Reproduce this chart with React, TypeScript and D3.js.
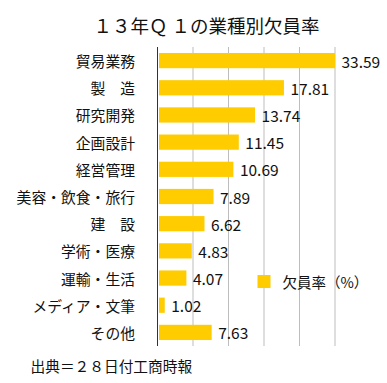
import React from "react";
import * as d3 from "d3";

const categories = [
  "貿易業務",
  "製　造",
  "研究開発",
  "企画設計",
  "経営管理",
  "美容・飲食・旅行",
  "建　設",
  "学術・医療",
  "運輸・生活",
  "メディア・文筆",
  "その他",
];
const values = [33.59, 17.81, 13.74, 11.45, 10.69, 7.89, 6.62, 4.83, 4.07, 1.02, 7.63];
const valueLabels = ["33.59", "17.81", "13.74", "11.45", "10.69", "7.89", "6.62", "4.83", "4.07", "1.02", "7.63"];
const xTicks = [5, 10, 15, 20, 25];
const xDomain = [0, 25];
const title = "１３年Ｑ １の業種別欠員率";
const legendLabel = "欠員率（%）";
const source = "出典＝２８日付工商時報";

const FONT = "'Noto Sans CJK JP', 'Noto Sans', sans-serif";

export default function App() {
  const W = 387;
  const H = 383;
  const top = 47;
  const bottom = 346;
  const x = d3.scaleLinear().domain(xDomain).range([157.5, 335]);
  const y = d3
    .scaleBand<string>()
    .domain(categories)
    .range([top, bottom])
    .paddingInner(0.44)
    .paddingOuter(0.22);
  const bw = y.bandwidth();

  return (
    <svg
      width={W}
      height={H}
      style={{ position: "absolute", left: 0, top: 0, background: "#fff" }}
      fontFamily={FONT}
    >
      <rect width={W} height={H} fill="#fff" />
      <text x={206.5} y={25} fontSize={18.5} textAnchor="middle" dominantBaseline="central" fill="#111">
        {title}
      </text>
      {xTicks.map((t) => (
        <line key={t} x1={x(t)} x2={x(t)} y1={top} y2={bottom} stroke="#bdbdbd" strokeWidth={1} />
      ))}
      {categories.map((c, i) => {
        const v = values[i];
        const end = x(Math.min(v, xDomain[1]));
        const yc = (y(c) as number) + bw / 2;
        return (
          <g key={c}>
            <rect x={x(0) + 1.5} y={y(c)} width={end - x(0) - 1.5} height={bw} fill="#FFCC00" />
            <text x={135} y={yc} fontSize={14.8} textAnchor="end" dominantBaseline="central" fill="#111">
              {c}
            </text>
            <text x={end + 6.5} y={yc} fontSize={15.5} dominantBaseline="central" fill="#111">
              {valueLabels[i]}
            </text>
          </g>
        );
      })}
      <line x1={x(0)} x2={x(0)} y1={top} y2={bottom} stroke="#333" strokeWidth={1} />
      <rect x={257.5} y={275} width={13} height={13} fill="#FFCC00" />
      <text x={282.5} y={281.5} fontSize={14.5} dominantBaseline="central" fill="#111">
        {legendLabel}
      </text>
      <text x={30.5} y={365} fontSize={14.7} dominantBaseline="central" fill="#111">
        {source}
      </text>
    </svg>
  );
}
